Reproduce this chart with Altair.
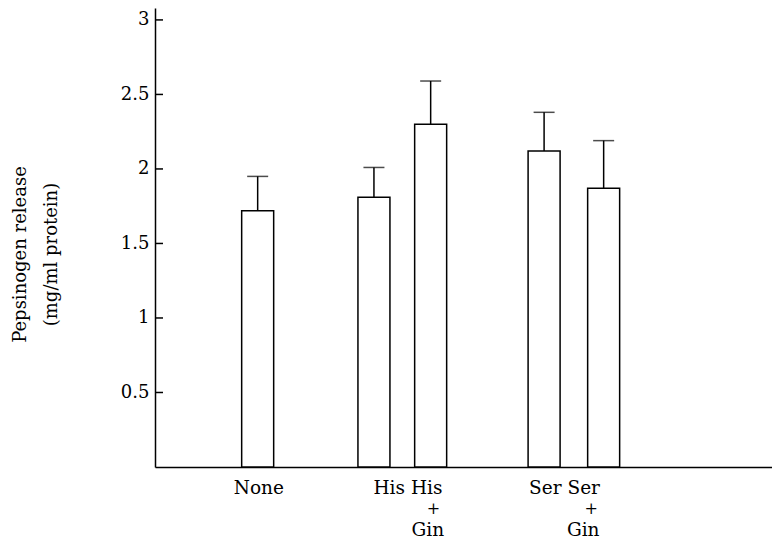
import altair as alt
import pandas as pd

# ---- data ----
conditions = ["None", "His", "His + Gin", "Ser", "Ser + Gin"]
slots = [0.95, 3, 4, 6, 7.05]           # category positions along the x axis
means = [1.72, 1.81, 2.30, 2.12, 1.87]  # bar heights
uppers = [1.95, 2.01, 2.59, 2.38, 2.19]  # mean + error

tick_values = [0.5, 1, 1.5, 2, 2.5, 3]

row1_labels = ["None", "His His", "Ser Ser"]
row1_pos = [0.97, 3.6, 6.36]
plus_labels = ["+", "+"]
plus_pos = [4.05, 6.83]
gin_labels = ["Gin", "Gin"]
gin_pos = [3.95, 6.69]

FONT = "DejaVu Serif"
FS = 18
LFS = 18.5

bars_df = pd.DataFrame({"condition": conditions, "slot": slots,
                        "mean": means, "upper": uppers})
ticks_df = pd.DataFrame({"v": tick_values})
row1_df = pd.DataFrame({"label": row1_labels, "pos": row1_pos})
plus_df = pd.DataFrame({"label": plus_labels, "pos": plus_pos})
gin_df = pd.DataFrame({"label": gin_labels, "pos": gin_pos})

x_scale = alt.Scale(domain=[-0.772, 9.93], nice=False, zero=False)
y_scale = alt.Scale(domain=[0, 3.08], nice=False, zero=True)

base = alt.Chart(bars_df)

bars = base.mark_bar(size=32, fill="white", stroke="black", strokeWidth=1.5,
                     orient="vertical").encode(
    x=alt.X("slot:Q", scale=x_scale,
            axis=alt.Axis(labels=False, ticks=False, grid=False, title=None,
                          domainColor="black", domainWidth=1.5)),
    y=alt.Y("mean:Q", scale=y_scale,
            axis=alt.Axis(values=tick_values, format="~g", ticks=False, tickSize=0,
                          grid=False, labelFont=FONT, labelFontSize=FS,
                          labelColor="black", labelPadding=6,
                          domainColor="black", domainWidth=1.5,
                          title=["Pepsinogen release", "(mg/ml protein)"],
                          titleFont=FONT, titleFontSize=18, titleFontWeight="normal",
                          titleColor="black", titleAngle=-90, titleX=-144, titleY=246,
                          titleAlign="center", titleBaseline="top",
                          titleLineHeight=31)),
)

err = base.mark_rule(color="black", strokeWidth=1.5).encode(
    x=alt.X("slot:Q", scale=x_scale),
    y=alt.Y("mean:Q", scale=y_scale),
    y2="upper:Q",
)

caps = base.mark_tick(orient="horizontal", size=21, thickness=1.5,
                      color="black").encode(
    x=alt.X("slot:Q", scale=x_scale),
    y=alt.Y("upper:Q", scale=y_scale),
)

yticks = alt.Chart(ticks_df).mark_rule(color="black", strokeWidth=1.5).encode(
    y=alt.Y("v:Q", scale=y_scale),
    x=alt.value(0),
    x2=alt.value(8),
)

row1 = alt.Chart(row1_df).mark_text(font=FONT, fontSize=LFS, color="black",
                                    align="center", baseline="alphabetic").encode(
    x=alt.X("pos:Q", scale=x_scale), y=alt.value(486), text="label:N")

plus = alt.Chart(plus_df).mark_text(font=FONT, fontSize=16, color="black",
                                    align="center", baseline="middle").encode(
    x=alt.X("pos:Q", scale=x_scale), y=alt.value(501), text="label:N")

gin = alt.Chart(gin_df).mark_text(font=FONT, fontSize=LFS, color="black",
                                  align="center", baseline="alphabetic").encode(
    x=alt.X("pos:Q", scale=x_scale), y=alt.value(528), text="label:N")

chart = alt.layer(bars, err, caps, yticks, row1, plus, gin).properties(
    width=617, height=459,
    autosize=alt.AutoSizeParams(type="none"),
    padding={"left": 147, "top": 0, "right": 0, "bottom": 73},
    background="white",
).configure_view(stroke=None)

chart.save("out.html", embed_options={"renderer": "svg", "actions": False})
